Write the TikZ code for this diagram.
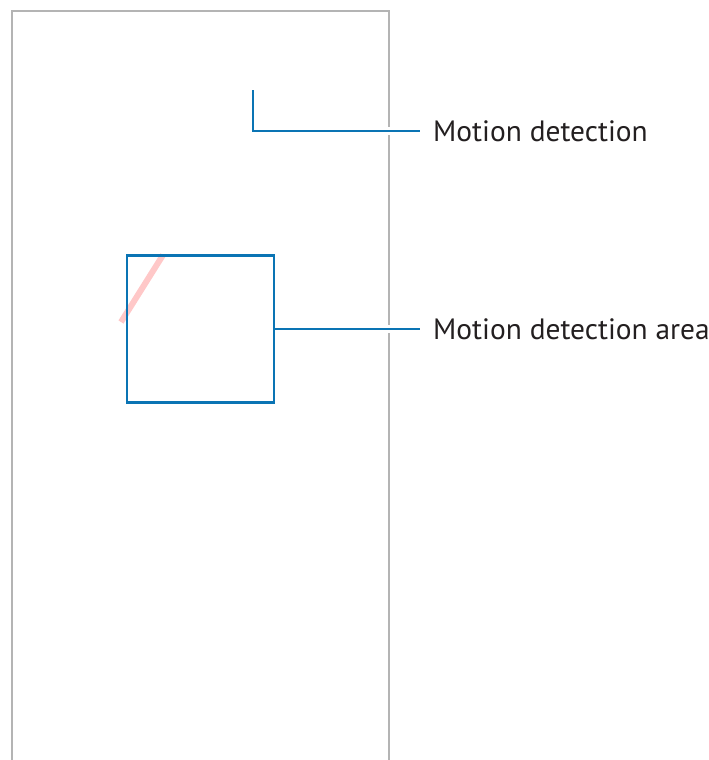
\documentclass[tikz,border=0pt]{standalone}
\usepackage{fontspec}
\setmainfont{PT Sans}
\definecolor{leaderblue}{HTML}{0A74B4}
\definecolor{framegray}{HTML}{B4B4B4}
\definecolor{swipe}{HTML}{FFC8C8}
\definecolor{txt}{HTML}{231F20}
\begin{document}
\begin{tikzpicture}[x=1pt,y=-1pt,
  leader/.style={draw=leaderblue,line width=2.5pt},
  halo/.style={draw=white,line width=8pt},
  label/.style={anchor=west,inner sep=0pt,text=txt,font=\fontsize{29.4}{33}\selectfont},
  frame/.style={draw=framegray,line width=1.8pt}]
\useasboundingbox (0,0) rectangle (709,760);
% phone frame (open at bottom)
\draw[frame] (12,762) -- (12,11) -- (389,11) -- (389,762);
% swipe stroke
\coordinate (s1) at (121,322);
\coordinate (s2) at (163,255);
\draw[swipe,line width=6pt] (s1) -- (s2);
% motion detection area square
\node[draw=leaderblue,line width=2.8pt,minimum size=147pt,inner sep=0pt] (area) at (200.5,329) {};
% labels
\node[label] (t1) at (433,131) {Motion detection};
\node[label] (t2) at (433,329) {Motion detection area};
% halos where leaders cross the frame
\draw[halo] (380,131) -- (398,131);
\draw[halo] (380,329) -- (398,329);
% leader 1
\coordinate (p1) at (253,90);
\draw[leader,shorten >=13pt] (p1) |- (t1.west);
% leader 2
\draw[leader,shorten >=13pt] (area.east) -- (t2.west);
\end{tikzpicture}
\end{document}
